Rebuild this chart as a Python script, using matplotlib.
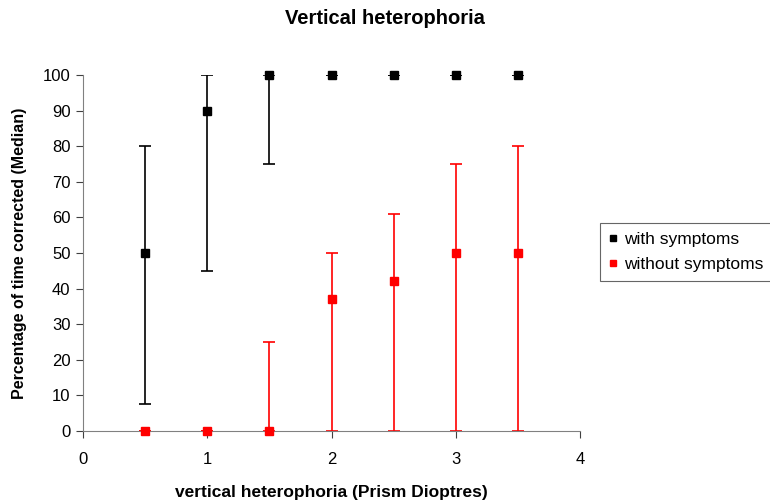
import numpy as np
import matplotlib.pyplot as plt

plt.rcParams['font.family'] = ['Liberation Sans', 'DejaVu Sans']

# prism dioptres
x_vals = [0.5, 1.0, 1.5, 2.0, 2.5, 3.0, 3.5]

# medians and ranges, with symptoms
with_med = [50, 90, 100, 100, 100, 100, 100]
with_low = [7.5, 45, 75, 100, 100, 100, 100]
with_high = [80, 100, 100, 100, 100, 100, 100]

# medians and ranges, without symptoms
without_med = [0, 0, 0, 37, 42, 50, 50]
without_low = [0, 0, 0, 0, 0, 0, 0]
without_high = [0, 0, 25, 50, 61, 75, 80]

fig = plt.figure(figsize=(7.7, 5.01), dpi=100)
ax = fig.add_axes([83 / 770, 70 / 501, 497 / 770, 356 / 501])


def draw_series(med, low, high, color, label):
    med = np.array(med, dtype=float)
    yerr = [med - np.array(low), np.array(high) - med]
    ax.errorbar(x_vals, med, yerr=yerr, fmt='none', ecolor=color,
                elinewidth=1.2, capsize=4.5, capthick=1.2, zorder=2)
    ax.plot(x_vals, med, ls='none', marker='s', ms=6, color=color,
            label=label, zorder=3, clip_on=False)


draw_series(with_med, with_low, with_high, 'black', 'with symptoms')
draw_series(without_med, without_low, without_high, '#ff0000', 'without symptoms')

ax.set_xlim(0, 4)
ax.set_ylim(0, 100)
ax.set_xticks([0, 1, 2, 3, 4])
ax.set_yticks(range(0, 101, 10))
ax.spines['top'].set_visible(False)
ax.spines['right'].set_visible(False)
ax.spines['bottom'].set_color('#808080')
ax.spines['left'].set_color('#808080')
ax.tick_params(direction='out', length=5, labelsize=12, colors='black')
ax.tick_params(axis='both', color='#404040')
ax.tick_params(axis='x', pad=10)
ax.tick_params(axis='y', pad=4)

ax.set_xlabel('vertical heterophoria (Prism Dioptres)', fontsize=12.5,
              fontweight='bold', labelpad=13)
ax.set_ylabel('Percentage of time corrected (Median)', fontsize=11.5,
              fontweight='bold', labelpad=11)
fig.text(0.5, 1 - 18 / 501, 'Vertical heterophoria', fontsize=14.5,
         fontweight='bold', ha='center', va='center')

leg = ax.legend(loc='center left', bbox_to_anchor=((600 - 83) / 497, 0.503),
                frameon=True, fancybox=False, edgecolor='#404040',
                fontsize=12.5, handlelength=0.5, handletextpad=0.4,
                markerscale=0.8, borderpad=0.5, labelspacing=0.55,
                borderaxespad=0)
leg.get_frame().set_linewidth(0.8)

fig.savefig('out.png', dpi=100)
